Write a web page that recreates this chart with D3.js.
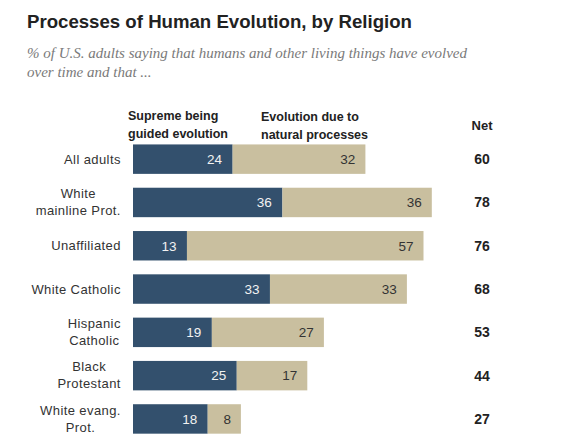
<!DOCTYPE html>
<html><head><meta charset="utf-8">
<script src="https://cdn.jsdelivr.net/npm/d3@7"></script>
<style>
html,body{margin:0;padding:0;background:#fff;}
svg{display:block;}
</style></head>
<body>
<script>
const categories = [["All adults"],["White","mainline Prot."],["Unaffiliated"],["White Catholic"],["Hispanic","Catholic"],["Black","Protestant"],["White evang.","Prot."]];
const guided = [24,36,13,33,19,25,18];
const natural = [32,36,57,33,27,17,8];
const net = [60,78,76,68,53,44,27];
const seriesHeaders = [["Supreme being","guided evolution"],["Evolution due to","natural processes"]];
const netHeader = "Net";
const title = "Processes of Human Evolution, by Religion";
const subtitle = ["% of U.S. adults saying that humans and other living things have evolved","over time and that ..."];

const W=563,H=445;
const svg=d3.select("body").append("svg").attr("width",W).attr("height",H);
const sans="'Liberation Sans', Arial, sans-serif";

const idx=categories.map((d,i)=>i);
const x=d3.scaleLinear().domain([0,100]).range([133,548]);
const y=d3.scaleBand().domain(idx).range([137.5,440.6]).paddingInner(0.32).paddingOuter(0.16);
const dark="#33506d", tan="#c9bf9f";

svg.append("text").attr("x",27).attr("y",28).attr("font-family",sans).attr("font-weight","bold")
  .attr("font-size",19).attr("fill","#222").attr("textLength",385).attr("lengthAdjust","spacingAndGlyphs").text(title);
svg.append("g").selectAll("text").data(subtitle).join("text")
  .attr("x",27).attr("y",(d,i)=>57.5+i*19.5).attr("font-family","'Liberation Serif', serif")
  .attr("font-style","italic").attr("font-size",15).attr("fill","#7a7a7a").text(d=>d);

// headers
const hx=[128,261], hy=[119.6,121.4];
seriesHeaders.forEach((lines,k)=>{
  const t=svg.append("text").attr("font-family",sans).attr("font-weight","bold").attr("font-size",12.5).attr("fill","#222");
  lines.forEach((l,j)=>t.append("tspan").attr("x",hx[k]).attr("y",hy[k]+j*17.9).text(l));
});
svg.append("text").attr("x",482).attr("y",130).attr("text-anchor","middle").attr("font-family",sans)
  .attr("font-weight","bold").attr("font-size",13).attr("fill","#222").text(netHeader);

const g=svg.append("g");
const cy=i=>y(i)+y.bandwidth()/2;
g.selectAll(".d").data(idx).join("rect").attr("x",x(0)).attr("y",i=>y(i))
  .attr("width",i=>x(guided[i])-x(0)).attr("height",y.bandwidth()).attr("fill",dark);
g.selectAll(".t").data(idx).join("rect").attr("x",i=>x(guided[i])).attr("y",i=>y(i))
  .attr("width",i=>x(guided[i]+natural[i])-x(guided[i])).attr("height",y.bandwidth()).attr("fill",tan);

g.selectAll(".dv").data(idx).join("text").attr("x",i=>x(guided[i])-10.5).attr("y",i=>cy(i)+4.8)
  .attr("text-anchor","end").attr("font-family",sans).attr("font-size",13.5).attr("fill","#f2f2f2").text(i=>guided[i]);
g.selectAll(".tv").data(idx).join("text").attr("x",i=>x(guided[i]+natural[i])-10).attr("y",i=>cy(i)+4.8)
  .attr("text-anchor","end").attr("font-family",sans).attr("font-size",13.5).attr("fill","#333").text(i=>natural[i]);
g.selectAll(".nv").data(idx).join("text").attr("x",482).attr("y",i=>cy(i)+5)
  .attr("text-anchor","middle").attr("font-family",sans).attr("font-weight","bold").attr("font-size",14).attr("fill","#222").text(i=>net[i]);

// category labels
idx.forEach(i=>{
  const lines=categories[i];
  const t=g.append("text").attr("font-family",sans).attr("font-size",13).attr("letter-spacing",0.4).attr("fill","#333");
  if(lines.length===1){
    t.attr("x",120.8).attr("y",cy(i)+4.6).attr("text-anchor","end").text(lines[0]);
  } else {
    const sp=lines.map((l,j)=>t.append("tspan").attr("y",cy(i)-4.3+j*17).text(l));
    let mw=0; sp.forEach(s=>{mw=Math.max(mw,s.node().getComputedTextLength());});
    t.attr("text-anchor","middle"); sp.forEach(s=>s.attr("x",120.8-mw/2));
  }
});
</script>
</body></html>
